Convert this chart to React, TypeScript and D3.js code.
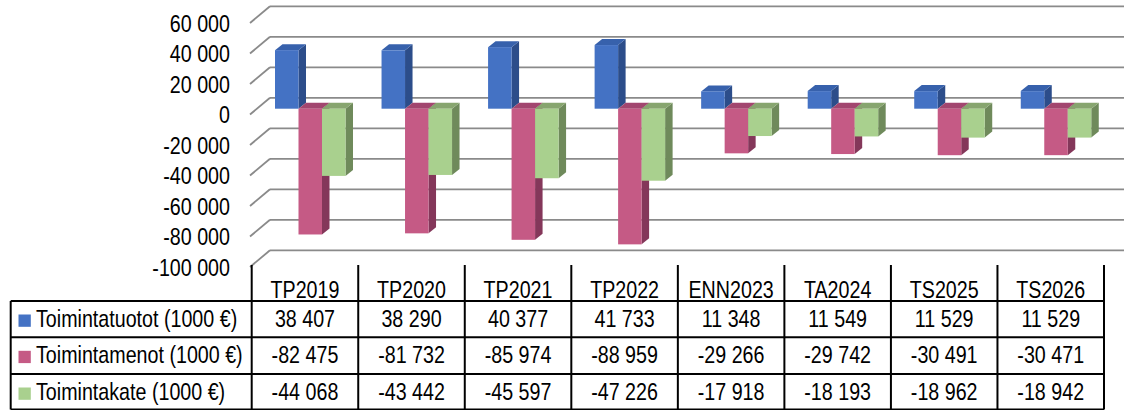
import React from "react";
import * as d3 from "d3";

const categories = ["TP2019", "TP2020", "TP2021", "TP2022", "ENN2023", "TA2024", "TS2025", "TS2026"];
const seriesNames = ["Toimintatuotot (1000 €)", "Toimintamenot (1000 €)", "Toimintakate (1000 €)"];
const tuotot = [38407, 38290, 40377, 41733, 11348, 11549, 11529, 11529];
const menot = [-82475, -81732, -85974, -88959, -29266, -29742, -30491, -30471];
const kate = [-44068, -43442, -45597, -47226, -17918, -18193, -18962, -18942];
const yTicks = [60000, 40000, 20000, 0, -20000, -40000, -60000, -80000, -100000];

const seriesValues = [tuotot, menot, kate];
const front = ["#4472C4", "#C55A85", "#A9D08E"];
const side = ["#2C4D8A", "#84375A", "#6F8A5B"];
const topc = ["#3761AC", "#A2466F", "#87A56F"];

const W = 1127;
const H = 410;
const FONT = "'Liberation Sans', Arial, sans-serif";
const NARROW = 0.82; // no Arial Narrow installed: squeeze Liberation Sans

const locale = d3.formatLocale({ decimal: ",", thousands: " ", grouping: [3], currency: ["", "€"], minus: "-" });
const fmt = locale.format(",d");

// table geometry
const tableLeft = 10.7;
const legendRight = 251.7;
const tableRight = 1104;
const headerTop = 265;
const rowLines = [301, 337.3, 374, 409.5];

// 3d geometry
const wallDx = 20;
const wallDy = 16.7;
const barDx = 7.5;
const barDy = 6;
const wallLeft = 270;
const wallRight = 1124;

const T = ({ x, y, anchor = "start", dy, children }: any) => (
  <text
    transform={`translate(${x},${y}) scale(${NARROW},1)`}
    dy={dy}
    textAnchor={anchor}
    fontSize={24}
    fill="#000"
  >
    {children}
  </text>
);

const App = () => {
  const x = d3.scaleBand().domain(categories).range([legendRight, tableRight]).padding(0);
  const xs = d3.scaleBand().domain(seriesNames.map((d, i) => String(i))).range([23.3, 23.3 + 70.5]).padding(0);
  const yBar = d3.scaleLinear().domain([-100000, 60000]).range([108.7 + 152.5, 108.7 - 91.5]);
  const yBack = (v: number) => yBar(v) - 10.9;

  const bars: React.ReactNode[] = [];
  categories.forEach((c, i) => {
    seriesValues.forEach((vals, s) => {
      const v = vals[i];
      const bx = (x(c) as number) + (xs(String(s)) as number);
      const w = xs.bandwidth();
      const t = Math.min(yBar(0), yBar(v));
      const b = Math.max(yBar(0), yBar(v));
      bars.push(
        <g key={`${c}-${s}`}>
          <polygon
            points={`${bx + w},${t} ${bx + w + barDx},${t - barDy} ${bx + w + barDx},${b - barDy} ${bx + w},${b}`}
            fill={side[s]}
          />
          <polygon
            points={`${bx},${t} ${bx + barDx},${t - barDy} ${bx + w + barDx},${t - barDy} ${bx + w},${t}`}
            fill={topc[s]}
          />
          <rect x={bx} y={t} width={w} height={b - t} fill={front[s]} />
        </g>
      );
    });
  });

  return (
    <svg width={W} height={H} style={{ position: "absolute", left: 0, top: 0 }} fontFamily={FONT}>
      <rect width={W} height={H} fill="#ffffff" />
      {/* back wall grid + side wall diagonals */}
      {yTicks.map(v => (
        <g key={v}>
          <line x1={wallLeft} x2={wallRight} y1={yBack(v)} y2={yBack(v)} stroke="#8a8a8a" strokeWidth={1.8} />
          <line x1={wallLeft - wallDx} y1={yBack(v) + wallDy} x2={wallLeft} y2={yBack(v)} stroke="#8a8a8a" strokeWidth={1.8} />
          <T x={230} y={yBack(v) + wallDy} dy="0.36em" anchor="end">
            {fmt(v)}
          </T>
        </g>
      ))}
      {bars}
      {/* data table */}
      <g stroke="#000" strokeWidth={2}>
        <line x1={legendRight} x2={legendRight} y1={headerTop} y2={rowLines[3]} />
        {categories.map(c => (
          <line key={c} x1={(x(c) as number) + x.bandwidth()} x2={(x(c) as number) + x.bandwidth()} y1={headerTop} y2={rowLines[3]} />
        ))}
        <line x1={tableLeft} x2={tableLeft} y1={rowLines[0]} y2={rowLines[3]} />
        {rowLines.map(y => (
          <line key={y} x1={tableLeft} x2={tableRight} y1={y} y2={y} />
        ))}
      </g>
      {categories.map(c => (
        <T key={c} x={(x(c) as number) + x.bandwidth() / 2} y={298} anchor="middle">
          {c}
        </T>
      ))}
      {seriesNames.map((name, s) => {
        const base = rowLines[s] + 26;
        return (
          <g key={name}>
            <rect x={18.5} y={rowLines[s] + 13.5} width={12.3} height={12.3} fill={front[s]} />
            <T x={36} y={base}>
              {name}
            </T>
            {categories.map((c, i) => (
              <T key={c} x={(x(c) as number) + x.bandwidth() / 2} y={base} anchor="middle">
                {fmt(seriesValues[s][i])}
              </T>
            ))}
          </g>
        );
      })}
    </svg>
  );
};

export default App;
